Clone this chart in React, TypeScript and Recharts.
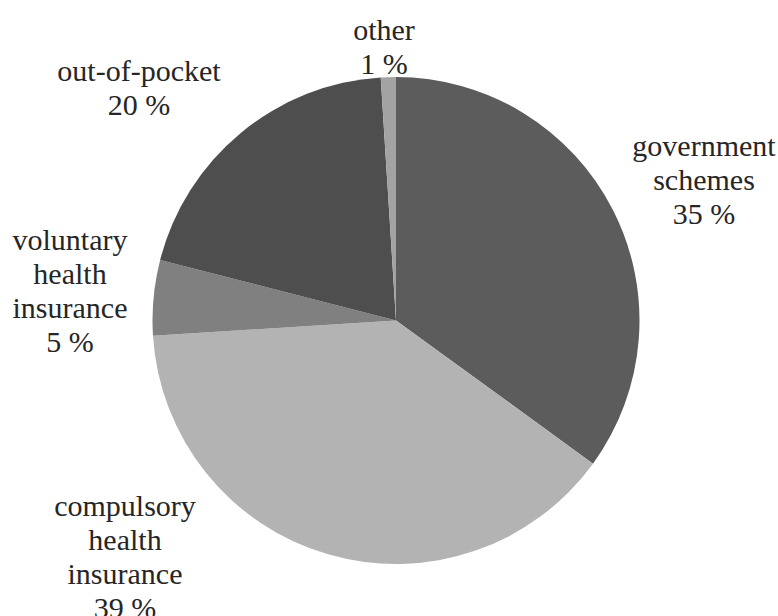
import { PieChart, Pie, Cell } from "recharts";

// shares of health expenditure by financing scheme, clockwise from 12 o'clock
const categories = [
  "government schemes",
  "compulsory health insurance",
  "voluntary health insurance",
  "out-of-pocket",
  "other",
];
const shares = [35, 39, 5, 20, 1];
// how each category label wraps onto lines
const labelLines = [
  ["government", "schemes"],
  ["compulsory", "health", "insurance"],
  ["voluntary", "health", "insurance"],
  ["out-of-pocket"],
  ["other"],
];

const COLORS = ["#5c5c5c", "#b3b3b3", "#808080", "#4e4e4e", "#a3a3a3"];

// label block centre, relative to the pie centre (Excel "best fit" placement)
const LABEL_OFFSETS = [
  [308, -141],
  [-271, 236],
  [-326, -30],
  [-257, -233],
  [-12, -274],
];

const data = categories.map((name, i) => ({ name, value: shares[i] }));

const FONT = "'Liberation Serif', 'Times New Roman', serif";
const FONT_SIZE = 30;
const LINE_H = 34;

const renderLabel = (props: any) => {
  const { cx, cy, index, value } = props;
  const lines = [...labelLines[index], `${value} %`];
  const [dx, dy] = LABEL_OFFSETS[index];
  const x = cx + dx;
  const top = cy + dy - ((lines.length - 1) * LINE_H) / 2;
  return (
    <text
      key={`lbl-${index}`}
      x={x}
      y={top}
      textAnchor="middle"
      fontFamily={FONT}
      fontSize={FONT_SIZE}
      fill="#262626"
    >
      {lines.map((line, j) => (
        <tspan key={j} x={x} y={top + j * LINE_H + 10}>
          {line}
        </tspan>
      ))}
    </text>
  );
};

export default function App() {
  return (
    <div style={{ width: 778, height: 616, background: "#fff" }}>
      <style>{"body{margin:0}"}</style>
      <PieChart width={778} height={616} margin={{ top: 0, right: 0, bottom: 0, left: 0 }}>
        <Pie
          data={data}
          dataKey="value"
          nameKey="name"
          cx={396}
          cy={320.5}
          outerRadius={243.5}
          startAngle={90}
          endAngle={-270}
          stroke="none"
          label={renderLabel}
          labelLine={false}
          isAnimationActive={false}
        >
          {data.map((d, i) => (
            <Cell key={d.name} fill={COLORS[i]} />
          ))}
        </Pie>
      </PieChart>
    </div>
  );
}
